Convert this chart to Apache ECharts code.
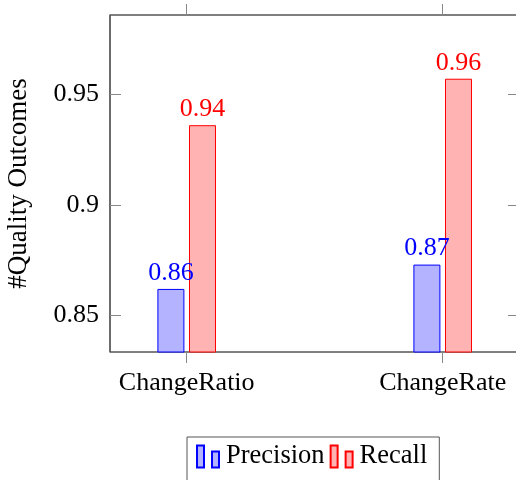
<!DOCTYPE html>
<html>
<head>
<meta charset="utf-8">
<script src="https://cdn.jsdelivr.net/npm/echarts@6/dist/echarts.min.js"></script>
<style>html,body{margin:0;padding:0;background:#fff}#c{width:516px;height:480px}</style>
</head>
<body>
<div id="c"></div>
<script>
const categories = ['ChangeRatio', 'ChangeRate'];
const precision = [0.862, 0.873];
const recall = [0.936, 0.957];
const yTicks = [0.85, 0.9, 0.95];
const yTickLabels = ['0.85', '0.9', '0.95'];
const seriesNames = ['Precision', 'Recall'];
const yName = '#Quality Outcomes';

const FONT = 'Liberation Serif';
const FS = 26;
const YMIN = 0.8335, YMAX = 0.9858;
const chart = echarts.init(document.getElementById('c'), null, {renderer: 'canvas'});
const iconPath = 'path://M0,0 L7,0 L7,22 L0,22 Z M15,6 L22,6 L22,22 L15,22 Z';
const labelFmt = p => p.value.toFixed(2);
chart.setOption({
  animation: false,
  textStyle: {fontFamily: FONT},
  grid: [
    {left: 110, width: 409, top: 15, bottom: 128, outerBoundsMode: 'none', containLabel: false,
     show: true, borderColor: '#000', borderWidth: 1, backgroundColor: 'transparent'},
    {left: 58.7, width: 512, top: 15, bottom: 128, outerBoundsMode: 'none', containLabel: false}
  ],
  xAxis: [
    {gridIndex: 0, type: 'value', min: 0, max: 1, show: false},
    {gridIndex: 1, type: 'category', data: categories, position: 'bottom',
     axisLine: {show: false}, axisTick: {show: true, alignWithLabel: true, length: 11, inside: false, lineStyle: {color: '#888'}},
     axisLabel: {fontFamily: FONT, fontSize: FS, color: '#000', margin: 18}},
    {gridIndex: 1, type: 'category', data: categories, position: 'top',
     axisLine: {show: false}, axisTick: {show: true, alignWithLabel: true, length: 11, inside: false, lineStyle: {color: '#888'}},
     axisLabel: {show: false}}
  ],
  yAxis: [
    {gridIndex: 0, type: 'value', min: YMIN, max: YMAX, position: 'left',
     name: yName, nameLocation: 'middle', nameRotate: 90, nameGap: 78,
     nameTextStyle: {fontFamily: FONT, fontSize: 27, color: '#000'},
     axisLine: {show: true, lineStyle: {color: '#666', width: 1.5}},
     axisTick: {show: true, inside: true, length: 11, customValues: yTicks, lineStyle: {color: '#888'}},
     axisLabel: {show: true, fontFamily: FONT, fontSize: FS, color: '#000', margin: 11, customValues: yTicks,
       formatter: v => { const i = yTicks.findIndex(t => Math.abs(t - v) < 1e-9); return i >= 0 ? yTickLabels[i] : ''; }},
     splitLine: {show: false}},
    {gridIndex: 0, type: 'value', min: YMIN, max: YMAX, position: 'right',
     axisLine: {show: false},
     axisTick: {show: true, inside: true, length: 11, customValues: yTicks, lineStyle: {color: '#888'}},
     axisLabel: {show: false}, splitLine: {show: false}},
    {gridIndex: 1, type: 'value', min: YMIN, max: YMAX, show: false, splitLine: {show: false}}
  ],
  legend: {
    data: seriesNames,
    left: 187, top: 437,
    orient: 'horizontal',
    padding: [6, 12, 20, 9],
    borderColor: '#555', borderWidth: 1,
    itemWidth: 22, itemHeight: 22, itemGap: 5,
    icon: iconPath,
    textStyle: {fontFamily: FONT, fontSize: 26.5, color: '#000', padding: [2, 0, 0, 2]}
  },
  series: [
    {name: seriesNames[0], type: 'bar', xAxisIndex: 1, yAxisIndex: 2, data: precision,
     barWidth: 27, barGap: '17%',
     itemStyle: {color: '#b3b3ff', borderColor: '#0000ff', borderWidth: 1},
     label: {show: true, position: 'top', distance: 3, formatter: labelFmt, fontFamily: FONT, fontSize: FS, color: '#0000ff'}},
    {name: seriesNames[1], type: 'bar', xAxisIndex: 1, yAxisIndex: 2, data: recall,
     barWidth: 27, barGap: '17%',
     itemStyle: {color: '#ffb3b3', borderColor: '#ff0000', borderWidth: 1},
     label: {show: true, position: 'top', distance: 3, formatter: labelFmt, fontFamily: FONT, fontSize: FS, color: '#ff0000'}}
  ]
});
</script>
</body>
</html>
